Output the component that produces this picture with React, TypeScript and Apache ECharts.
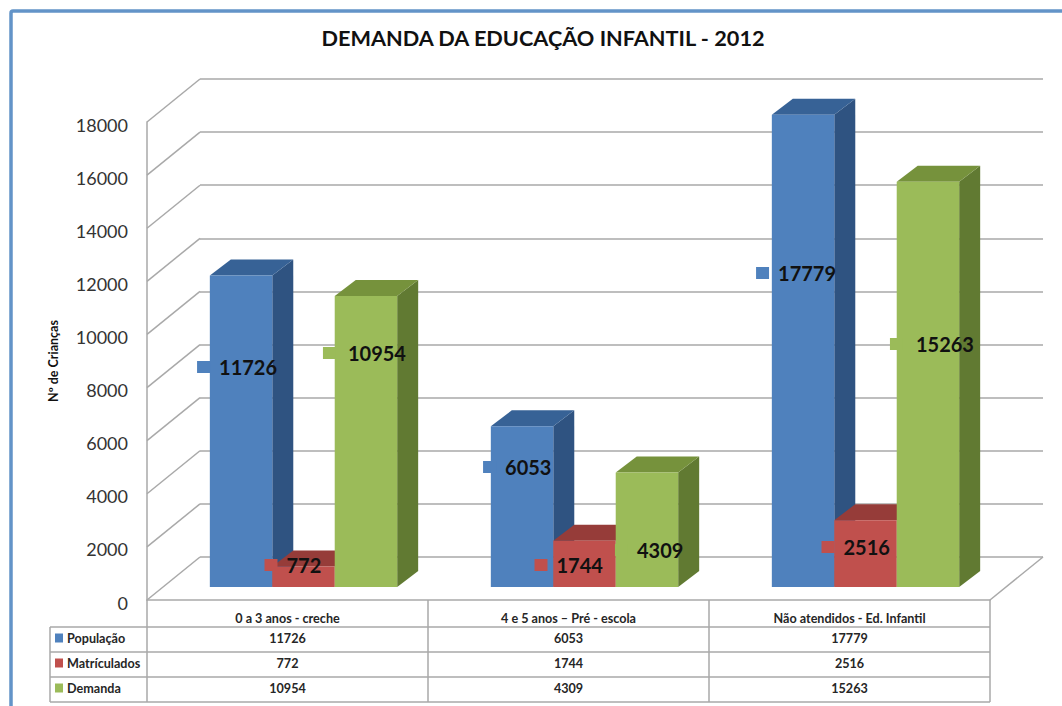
import React, { useEffect, useRef } from "react";
import * as echarts from "echarts";

const titleText = "DEMANDA DA EDUCAÇÃO INFANTIL - 2012";
const yAxisName = "Nº de Crianças";
const categories = ["0 a 3 anos - creche", "4 e 5 anos – Pré - escola", "Não atendidos - Ed. Infantil"];
const seriesNames = ["População", "Matrículados", "Demanda"];
const populacao = [11726, 6053, 17779];
const matriculados = [772, 1744, 2516];
const demanda = [10954, 4309, 15263];
const tickValues = [0, 2000, 4000, 6000, 8000, 10000, 12000, 14000, 16000, 18000];
// Height on the value scale at which each data label sits
const populacaoLabelLevel = [8774, 5008, 12314];
const matriculadosLabelLevel = [1318, 1318, 1996];
const demandaLabelLevel = [9301, 1883, 9640];
// Horizontal label offset from the bar centre, px
const populacaoLabelShift = [-22, -17, -25];
const matriculadosLabelShift = [-17, -28, -22];
const demandaLabelShift = [-18, -10, -12];
// Gap between marker and label text, px
const populacaoMarkerGap = [22, 22, 22];
const matriculadosMarkerGap = [22, 22, 22];
const demandaMarkerGap = [25, 22, 26];

const allValues = [populacao, matriculados, demanda];
const allLevels = [populacaoLabelLevel, matriculadosLabelLevel, demandaLabelLevel];
const allShifts = [populacaoLabelShift, matriculadosLabelShift, demandaLabelShift];
const allGaps = [populacaoMarkerGap, matriculadosMarkerGap, demandaMarkerGap];

const FRONT = ["#4F81BD", "#C0504D", "#9BBB59"];
const TOP = ["#376296", "#963C39", "#76923C"];
const SIDE = ["#2F5381", "#7F3230", "#617A32"];
const LINE = "#A9A9A9";
const FONT = "Lato";
const TEXT = "#262626";

const WALL_DX = 53;
const WALL_DY = -43;
const BAR_DX = 16;
const BAR_DY = -13;
const DEPTH_DX = 21;
const DEPTH_DY = -16;

const GRID = { left: 147, top: 122, width: 843, height: 478 };
const TABLE_LEFT = 50;
const TABLE_ROWS = [627, 652, 677, 702];
const COLS = [147, 428, 709, 990];

function barItem(s: number) {
  return (params: any, api: any) => {
    const cat = api.value(0);
    const base = api.coord([cat, 0]);
    const top = api.coord([cat, api.value(1)]);
    const band = api.size([1, 0])[0];
    const w = band / 4.5;
    const x0 = base[0] - 1.5 * w + s * w + BAR_DX;
    const x1 = x0 + w;
    const yb = base[1] + BAR_DY;
    const yt = top[1] + BAR_DY;
    return {
      type: "group",
      children: [
        { type: "polygon", shape: { points: [[x1, yb], [x1 + DEPTH_DX, yb + DEPTH_DY], [x1 + DEPTH_DX, yt + DEPTH_DY], [x1, yt]] }, style: { fill: SIDE[s] } },
        { type: "polygon", shape: { points: [[x0, yt], [x1, yt], [x1 + DEPTH_DX, yt + DEPTH_DY], [x0 + DEPTH_DX, yt + DEPTH_DY]] }, style: { fill: TOP[s] } },
        { type: "rect", shape: { x: x0, y: yt, width: w, height: yb - yt }, style: { fill: FRONT[s] } },
      ],
    };
  };
}

function labelItem(s: number) {
  return (params: any, api: any) => {
    const cat = api.value(0);
    const p = api.coord([cat, api.value(1)]);
    const band = api.size([1, 0])[0];
    const w = band / 4.5;
    const cx = p[0] - 1.5 * w + (s + 0.5) * w + BAR_DX;
    const x = cx + allShifts[s][params.dataIndex];
    return {
      type: "group",
      children: [
        { type: "rect", shape: { x: x - allGaps[s][params.dataIndex], y: p[1] - 6, width: 13, height: 12 }, style: { fill: FRONT[s] } },
        {
          type: "text",
          style: {
            x,
            y: p[1],
            text: String(api.value(2)),
            fill: "#111",
            font: `bold 20px ${FONT}`,
            textAlign: "left",
            textVerticalAlign: "middle",
          },
        },
      ],
    };
  };
}

function wallItem(params: any, api: any) {
  const v = api.value(1);
  const p = api.coord([0, v]);
  const left = params.coordSys.x;
  const right = left + params.coordSys.width;
  const lineStyle = { stroke: LINE, lineWidth: 1.5, fill: "none" };
  const children: any[] = [
    { type: "line", shape: { x1: left, y1: p[1], x2: left + WALL_DX, y2: p[1] + WALL_DY }, style: lineStyle },
  ];
  if (v === 0) {
    children.push({ type: "line", shape: { x1: right, y1: p[1], x2: right + WALL_DX, y2: p[1] + WALL_DY }, style: lineStyle });
  }
  return { type: "group", children };
}

function tableGraphic() {
  const els: any[] = [];
  const stroke = { stroke: LINE, lineWidth: 1.5 };
  TABLE_ROWS.forEach((y) => {
    els.push({ type: "line", shape: { x1: TABLE_LEFT, y1: y, x2: COLS[3], y2: y }, style: stroke });
  });
  els.push({ type: "line", shape: { x1: TABLE_LEFT, y1: TABLE_ROWS[0], x2: TABLE_LEFT, y2: TABLE_ROWS[3] }, style: stroke });
  COLS.forEach((x) => {
    els.push({ type: "line", shape: { x1: x, y1: GRID.top + GRID.height, x2: x, y2: TABLE_ROWS[3] }, style: stroke });
  });
  allValues.forEach((vals, r) => {
    vals.forEach((v, c) => {
      els.push({
        type: "text",
        style: {
          x: (COLS[c] + COLS[c + 1]) / 2,
          y: (TABLE_ROWS[r] + TABLE_ROWS[r + 1]) / 2 - 1,
          text: String(v),
          fill: TEXT,
          font: `bold 12.6px ${FONT}`,
          textAlign: "center",
          textVerticalAlign: "middle",
        },
      });
    });
  });
  // Chart frame, running off the right and bottom of the picture
  els.push({
    type: "rect",
    shape: { x: 11, y: 11, width: 1120, height: 780, r: 2 },
    style: { fill: "none", stroke: "#6394C8", lineWidth: 3.5 },
  });
  return els;
}

export default function App() {
  const ref = useRef<HTMLDivElement>(null);
  useEffect(() => {
    const chart = echarts.init(ref.current!, null, { renderer: "svg" });
    const barSeries = seriesNames.map((name, s) => ({
      type: "custom",
      name,
      xAxisIndex: 0,
      yAxisIndex: 0,
      z: 3 + s,
      clip: false,
      itemStyle: { color: FRONT[s] },
      renderItem: barItem(s),
      data: allValues[s].map((v, i) => [i, v]),
    }));
    const labelSeries = seriesNames.map((_, s) => ({
      type: "custom",
      xAxisIndex: 0,
      yAxisIndex: 0,
      z: 10 + s,
      clip: false,
      renderItem: labelItem(s),
      data: allValues[s].map((v, i) => [i, allLevels[s][i], v]),
    }));
    chart.setOption({
      animation: false,
      backgroundColor: "#ffffff",
      title: {
        text: titleText,
        left: 538,
        top: 22,
        textAlign: "center",
        textStyle: { fontFamily: FONT, fontWeight: "bold", fontSize: 21.7, color: "#111" },
      },
      legend: {
        data: seriesNames,
        orient: "vertical",
        left: 50,
        top: 625,
        padding: [6, 0, 0, 5],
        icon: "rect",
        itemWidth: 8,
        itemHeight: 9,
        itemGap: 11,
        selectedMode: false,
        textStyle: { fontFamily: FONT, fontWeight: "bold", fontSize: 12.6, color: TEXT, lineHeight: 14, padding: [0, 0, 0, -1] },
      },
      grid: [
        { ...GRID },
        { left: GRID.left + WALL_DX, top: GRID.top + WALL_DY, width: GRID.width, height: GRID.height },
      ],
      xAxis: [
        {
          type: "category",
          gridIndex: 0,
          data: categories,
          axisTick: { show: false },
          axisLine: { show: true, lineStyle: { color: LINE, width: 1.5 } },
          axisLabel: { fontFamily: FONT, fontWeight: "bold", fontSize: 12.6, color: TEXT, margin: 12 },
        },
        { type: "category", gridIndex: 1, data: categories, show: false },
      ],
      yAxis: [
        {
          type: "value",
          gridIndex: 0,
          min: 0,
          max: 18000,
          interval: 2000,
          name: yAxisName,
          nameLocation: "middle",
          nameRotate: 90,
          nameGap: 87,
          nameTextStyle: { fontFamily: FONT, fontWeight: "bold", fontSize: 12.5, color: "#111" },
          axisLine: { show: true, lineStyle: { color: LINE, width: 1.5 } },
          axisTick: { show: false },
          splitLine: { show: false },
          axisLabel: {
            fontFamily: FONT,
            fontSize: 18,
            color: "#333",
            margin: 19,
            verticalAlign: "top",
            lineHeight: 5,
            formatter: (v: number) => String(v),
          },
        },
        {
          type: "value",
          gridIndex: 1,
          min: 0,
          max: 18000,
          interval: 2000,
          axisLine: { show: false },
          axisTick: { show: false },
          axisLabel: { show: false },
          splitLine: { show: true, showMinLine: true, showMaxLine: true, lineStyle: { color: LINE, width: 1.5 } },
        },
      ],
      graphic: tableGraphic(),
      series: [
        {
          type: "custom",
          xAxisIndex: 0,
          yAxisIndex: 0,
          z: 1,
          clip: false,
          renderItem: wallItem,
          data: tickValues.map((v) => [0, v]),
        },
        ...barSeries,
        ...labelSeries,
      ],
    });
    return () => chart.dispose();
  }, []);
  return <div ref={ref} style={{ position: "fixed", left: 0, top: 0, width: 1062, height: 706 }} />;
}
